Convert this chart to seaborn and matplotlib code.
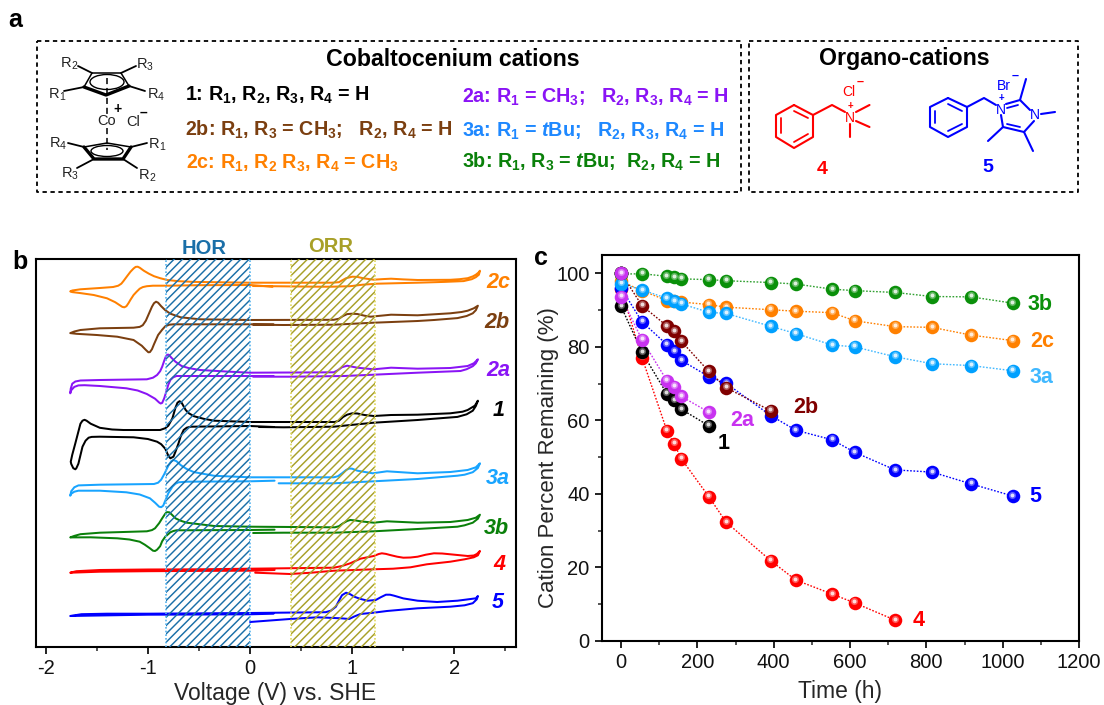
import matplotlib
matplotlib.use("Agg")
import matplotlib.pyplot as plt
import seaborn as sns
from matplotlib.patches import Ellipse
from matplotlib.transforms import ScaledTranslation

# ---------- panel b: cyclic voltammograms (V vs SHE, stacked current in arbitrary units)
V_2c = [.22,0,-.5,-.81,-.95,-1.01,-1.05,-1.08,-1.11,-1.14,-1.17,-1.19,-1.21,-1.23,-1.25,-1.28,-1.32,-1.40,-1.53,-1.66,-1.74,-1.76,-1.74,-1.66,-1.47,-1.34,-1.29,-1.26,-1.24,-1.20,-1.17,-1.14,-1.12,-1.10,-1.08,-1.04,-.99,-.94,-.88,-.81,-.70,-.55,0,.80,.87,.90,.94,1.0,1.05,1.11,1.21,1.30,1.38,1.5,1.64,1.96,2.05,2.13,2.18,2.21,2.24,2.25,2.24,2.21,2.17,2.09,1.9,1.64,1.24,1.1,.98,.8,.66,.03]
I_2c = [360,361.7,361.5,361,361,360.5,359.6,358,355,351.7,347,343.5,340.5,339.4,339.8,341.8,344.5,348.4,351.7,353.6,354.6,355.3,356.2,357.4,358.7,359.7,361,363,365.5,371,375,378.2,379.8,380,379,376,373,370.5,368.5,366.7,365.5,364.8,364,364,364.5,366.3,368.5,370,369.8,368.4,367,367.6,368,367.3,366.7,366.9,367.5,368.5,370.3,372,374.5,376,372,369.5,367.5,365.6,364.8,364,363,362,360.5,360,360,360.7]
V_2b = [.23,0,-.75,-.79,-.83,-.86,-.90,-.94,-.96,-.98,-.995,-1.02,-1.06,-1.14,-1.30,-1.50,-1.70,-1.76,-1.72,-1.66,-1.47,-1.14,-1.08,-1.05,-1.02,-.99,-.96,-.94,-.92,-.90,-.87,-.83,-.78,-.68,-.49,0,.82,.87,.91,.95,1.0,1.05,1.12,1.18,1.28,1.38,1.64,1.96,2.07,2.13,2.19,2.23,2.21,2.18,2.12,2.03,1.8,1.64,1.21,.82,.33,.03]
I_2b = [322.4,322.4,322.4,322,320.4,317,311.7,302.5,297.5,294.6,294.4,296.8,301,306.7,310,311.7,312.9,313.6,315.2,316.7,318.4,319,319.8,321.5,326,333,340,343.5,345,344,340.5,336.5,333,329.4,327.4,326.7,326.9,328,330.7,332.6,333,332.7,331,330,331,332,331.4,333.4,334.7,336,338.4,341,336.5,333.4,330.7,328.6,326.7,325.7,324,322,321.7,322]
V_2a = [.23,0,-.72,-.75,-.78,-.80,-.82,-.84,-.86,-.875,-.89,-.93,-1.01,-1.10,-1.21,-1.47,-1.62,-1.68,-1.72,-1.75,-1.76,-1.755,-1.74,-1.71,-1.66,-1.47,-1.01,-.95,-.91,-.88,-.86,-.84,-.825,-.81,-.795,-.77,-.73,-.67,-.6,-.49,-.2,0,.82,.86,.90,.95,1.05,1.21,1.38,1.64,1.96,2.13,2.19,2.23,2.21,2.18,2.12,2.06,1.64,1.21,.92,.39,.03]
I_2a = [270.7,270.7,270.7,269.5,266.7,262,255,248.5,243.8,243.2,244.2,248,252.7,256.2,258.4,260.7,261.5,261.3,259.8,256.5,253.4,258,263,265.2,266.2,266.7,267.4,269,271.7,275.5,280,286,290,292,292,289,285,280.7,278.6,276.7,275,274,274.4,276.5,279.5,281,279,277.4,279,278,278.7,280.7,283.4,287.4,283.4,280.5,277.5,275.7,274,272,270.7,270,270]
V_1 = [.23,0,-.58,-.62,-.65,-.68,-.70,-.73,-.75,-.78,-.80,-.83,-.87,-.91,-1.0,-1.14,-1.47,-1.55,-1.58,-1.61,-1.64,-1.68,-1.70,-1.71,-1.73,-1.75,-1.755,-1.74,-1.71,-1.66,-1.64,-1.62,-1.60,-1.56,-1.47,-1.35,-1.24,-.88,-.83,-.80,-.76,-.73,-.71,-.69,-.67,-.63,-.60,-.55,-.45,-.35,0,.83,.87,.91,.95,1.0,1.05,1.12,1.21,1.38,1.64,1.96,2.08,2.13,2.20,2.23,2.21,2.18,2.12,2.03,1.64,1.21,.82,.33,.09]
I_1 = [219.7,220.7,220,219,216.7,210,203.4,195,190,188.4,191,198,202.5,205,207.7,209.4,210,209.8,209,206,200,183,178.5,177.4,178.5,182.7,185,192,203.4,223,226,226.9,226,223,218.9,217.2,216.7,216.7,218.5,221,228.4,239,244,245.5,244,236.7,233.5,230.5,227.8,226,224.7,224.7,226,229.7,232,233.4,233.2,231.7,230.7,231.7,232,233.4,235,236.7,241,246,240.7,236,232.4,229.8,226.7,224,220,219.4,219.7]
V_3a = [.24,0,-.62,-.70,-.73,-.76,-.80,-.83,-.85,-.87,-.89,-.93,-.98,-1.08,-1.21,-1.47,-1.68,-1.72,-1.75,-1.76,-1.75,-1.72,-1.68,-1.47,-.94,-.90,-.87,-.84,-.80,-.77,-.75,-.72,-.68,-.62,-.55,-.35,0,.82,.86,.90,.94,.97,1.0,1.05,1.20,1.34,1.64,1.96,2.13,2.21,2.25,2.23,2.18,2.1,2.03,1.64,1.21,.82,.28]
I_3a = [166,165.4,165,164.4,163,160,153.4,146,141,139.5,140,144,148.4,152.2,154.4,156,156,155,153,151,155.5,159.4,161.3,162,162.7,164,167,172.5,181,185.5,186.7,185.5,181.7,177.7,174.6,170.9,169.4,169.4,170.5,173.4,176.7,178.2,178,176,173.4,175.4,173.4,174.7,176.7,179.4,183.4,178.7,174.5,172,171,167.7,165.4,163.4,163.4]
V_3b = [.24,0,-.72,-.75,-.78,-.83,-.86,-.88,-.91,-.93,-.95,-.98,-1.03,-1.08,-1.18,-1.30,-1.56,-1.76,-1.72,-1.66,-1.47,-1.01,-.96,-.93,-.89,-.86,-.83,-.815,-.79,-.76,-.73,-.68,-.62,-.35,0,.83,.87,.91,.95,.98,1.03,1.08,1.21,1.34,1.64,1.96,2.13,2.21,2.25,2.23,2.18,2.1,2.03,1.64,1.21,.82,.33,.03]
I_3b = [117,116.7,116.4,115.7,114.4,110,105.5,100.5,97,95.7,96,98.4,102,105,107.2,108.4,109.4,109.3,110.8,112.5,114,115.4,116.6,118.4,123.5,128.4,133,134.6,134.4,131.5,128.4,126,124,120.7,120,119.4,120.5,123.4,125.7,126.7,126.3,125.4,124,125.4,124,124.7,126.7,129,132,128,124,121.4,120,117.7,115.4,114,114,113.7]
V_4 = [.24,0,-.5,-1,-1.47,-1.76,-1.70,-1.47,-1.0,-.5,0,.82,.90,.98,1.08,1.21,1.26,1.29,1.33,1.37,1.44,1.50,1.57,1.64,1.72,1.80,1.88,1.96,2.13,2.19,2.22,2.25,2.23,2.19,2.1,1.96,1.73,1.57,1.4,1.21,.82,.6,.39,.05]
I_4 = [76.7,76,75.8,75.5,75,74,75.5,76.7,77.2,77.4,78,79,80.7,83.4,88,90.7,92.7,93.4,92.8,91.7,90,89,89.2,90,92,93.4,93.2,92.4,90.7,91.2,92.7,95.7,91.4,89.4,87.4,85,82.4,79.4,78,77.4,76,74,72.7,74]
V_5 = [.23,0,-1.0,-1.6,-1.76,-1.65,-1.4,-1.0,0,.74,.79,.84,.87,.90,.94,.98,1.02,1.08,1.15,1.23,1.28,1.33,1.37,1.41,1.5,1.64,1.83,2.03,2.16,2.21,2.23,2.22,2.18,2.1,1.96,1.64,1.34,1.21,1.08,1.02,.97,.89,.66,.39,0]
I_5 = [33,32.4,32,31,30.7,32.5,33,33,33.7,34.5,36,40,46,51.5,54,52.5,50,47.8,46,46.7,49.5,52,52,51,48.3,46,44.7,46,47.7,48.4,50.7,47.5,43.5,41.4,40,38.4,35.7,34,32.7,30.2,27.7,28.4,29.4,27.7,24.7]

# ---------- panel c: cation stability
T_LONG = [0,0,55,120,139,158,230,275,392,458,553,612,718,815,917,1026]
P_3b = [100,99.8,99.9,99.2,98.9,98.5,98.3,98,97.5,97.1,95.7,95.3,94.8,93.7,93.6,91.9]
P_2c = [100,97.8,95.3,92.6,92.4,92.2,91.5,90.8,90.1,89.7,89.3,87.1,85.5,85.3,83.2,81.7]
P_3a = [100,97.2,95.5,93.2,92.4,91.7,89.4,89.1,85.6,83.6,80.5,80,77.3,75.4,74.9,73.5]
P_5 = [100,96,86.8,80.6,78.8,76.3,71.9,70.1,61.3,57.3,54.7,51.3,46.5,45.9,42.7,39.4]
T_2b = [0,55,120,139,158,230,275,392]
P_2b = [100,91.2,85.7,84.2,81.5,73.3,68.9,62.6]
T_SHORT = [0,0,55,120,139,158,230]
P_2a = [100,93.6,81.9,70.8,69.2,66.5,62.2]
P_1 = [100,91,78.5,67.2,65.4,63,58.5]
T_4 = [0,0,55,120,139,158,230,275,392,458,553,612,718]
P_4 = [100,95.8,77,57.2,53.6,49.5,39.2,32.3,21.8,16.5,12.7,10.3,5.6]

sns.set_theme(style="ticks")
plt.rcParams.update({
    "font.family": ["Liberation Sans", "DejaVu Sans"],
    "axes.unicode_minus": False,
    "mathtext.fontset": "custom",
    "mathtext.rm": "Liberation Sans:bold",
    "mathtext.bf": "Liberation Sans:bold",
    "mathtext.it": "Liberation Sans:italic:bold",
    "mathtext.default": "rm",
    "hatch.linewidth": 1.05,
    "text.color": "#111111",
})

W, H = 1104, 705
fig = plt.figure(figsize=(W / 100, H / 100), dpi=100, facecolor="white")


def axes_px(l, t, r, b):
    return fig.add_axes([l / W, 1 - b / H, (r - l) / W, (b - t) / H])


C = {"1": "#000000", "2a": "#8a14f5", "2b": "#7b3f10", "2c": "#ff8000", "3a": "#18a4ff",
     "3b": "#0a800a", "4": "#ff0000", "5": "#0000ff"}

# ---------- panel b
axb = axes_px(36, 259, 515.7, 646.7)
curves = [("2c", V_2c, I_2c), ("2b", V_2b, I_2b), ("2a", V_2a, I_2a), ("1", V_1, I_1),
          ("3a", V_3a, I_3a), ("3b", V_3b, I_3b), ("4", V_4, I_4), ("5", V_5, I_5)]
for name, v, i in curves:
    sns.lineplot(x=v, y=i, sort=False, estimator=None, color=C[name], lw=1.45, ax=axb,
                 zorder=2, solid_joinstyle="round")
axb.axvspan(-.825, 0, facecolor="none", edgecolor="#1a6fa8", hatch="////", lw=0, zorder=3)
axb.axvspan(.4, 1.225, facecolor="none", edgecolor="#a8a028", hatch="////", lw=0, zorder=3)
for x, col in [(-.825, "#58b4ee"), (0, "#58b4ee"), (.4, "#e0d860"), (1.225, "#e0d860")]:
    axb.axvline(x, color=col, lw=1.2, ls=(0, (1, 1.2)), zorder=3)
axb.set_xlim(-2.095, 2.6)
axb.set_ylim(0, 387.7)
axb.set_yticks([])
axb.set_xticks([-2, -1, 0, 1, 2])
axb.set_xticks([-1.5, -.5, .5, 1.5, 2.5], minor=True)
axb.set_xlabel("Voltage (V) vs. SHE", fontsize=16.5, va="center")
axb.xaxis.set_label_coords(.498, -.122)
b_labels = [("2c", 2.31, 363.7), ("2b", 2.29, 324.7), ("2a", 2.31, 276.7), ("1", 2.37, 236.7),
            ("3a", 2.31, 168.7), ("3b", 2.29, 118.7), ("4", 2.38, 82.7), ("5", 2.37, 43.7)]
for name, x, y in b_labels:
    axb.text(x, y, name, color=C[name], fontsize=15.5, fontweight="bold", fontstyle="italic", va="center")

# ---------- panel c
axc = axes_px(602, 255, 1079, 640.7)
CC = {"1": "#000000", "2a": "#c832f0", "2b": "#800000", "2c": "#ff8000", "3a": "#00a0ff",
      "3b": "#0a900a", "4": "#ff0000", "5": "#0000ff"}
LC = {"3a": "#40b8ff", "3b": "#30a030"}
series = [("4", T_4, P_4), ("5", T_LONG, P_5), ("1", T_SHORT, P_1), ("2c", T_LONG, P_2c),
          ("3b", T_LONG, P_3b), ("3a", T_LONG, P_3a), ("2b", T_2b, P_2b), ("2a", T_SHORT, P_2a)]
shift = axc.transData + ScaledTranslation(-.3 / 72, 1.0 / 72, fig.dpi_scale_trans)
for k, (name, t, p) in enumerate(series):
    z = 3 + k
    sns.lineplot(x=t, y=p, sort=False, estimator=None, color=LC.get(name, CC[name]), lw=1.0,
                 ls=(0, (1.2, 1.2)), ax=axc, zorder=2)
    sns.scatterplot(x=t, y=p, color=CC[name], s=95, linewidth=0, ax=axc, zorder=z)
    axc.scatter(t, p, s=26, color="white", alpha=.35, linewidth=0, transform=shift, zorder=z)
    axc.scatter(t, p, s=8, color="white", alpha=.8, linewidth=0, transform=shift, zorder=z)
axc.set_xlim(-50, 1200)
axc.set_ylim(0, 105)
axc.set_xticks(range(0, 1201, 200))
axc.set_xticks(range(100, 1200, 200), minor=True)
axc.set_yticks(range(0, 101, 20))
axc.set_yticks(range(10, 100, 20), minor=True)
axc.set_xlabel("Time (h)", fontsize=16.5, va="center")
axc.xaxis.set_label_coords(.499, -.133)
axc.set_ylabel("Cation Percent Remaining (%)", fontsize=16, va="center")
axc.yaxis.set_label_coords(-.113, .474)
c_labels = [("3b", 1065, 91.5, "#0a900a"), ("2c", 1071, 81.4, "#ff8000"), ("3a", 1071, 71.6, "#40b8ff"),
            ("5", 1071, 39.2, "#0000ff"), ("2b", 450, 63.4, "#800000"), ("2a", 285, 60, "#c832f0"),
            ("1", 254, 53.6, "#000000"), ("4", 764, 5.6, "#ff0000")]
for name, x, y, col in c_labels:
    axc.text(x, y, name, color=col, fontsize=15.5, fontweight="bold", va="center", zorder=20)

for ax in (axb, axc):
    for s in ax.spines.values():
        s.set_linewidth(1.5)
        s.set_color("black")
        s.set_visible(True)
    ax.tick_params(which="major", length=5, width=1.3, labelsize=14.5, pad=4, colors="#111111")
    ax.tick_params(which="minor", length=3, width=1.1)

# ---------- panel a: scheme, in figure pixel coordinates
ov = fig.add_axes([0, 0, 1, 1], zorder=30)
ov.set_xlim(0, W)
ov.set_ylim(H, 0)
ov.axis("off")
ov.patch.set_alpha(0)


def line(pts, col="black", lw=1.1, **kw):
    ov.plot([p[0] for p in pts], [p[1] for p in pts], color=col, lw=lw, solid_capstyle="round", **kw)


def TX(x, y, s, col="#111111", fs=10, **kw):
    kw.setdefault("ha", "center")
    kw.setdefault("va", "center")
    ov.text(x, y, s, color=col, fontsize=fs, **kw)


for l, r in [(37, 741), (749, 1078)]:
    ov.plot([l, r, r, l, l], [41, 41, 192, 192, 41], color="black", lw=1.3, ls=(0, (2.4, 2)))

TX(15, 20, "a", fs=18, fontweight="bold", col="black")
TX(20, 262, "b", fs=18, fontweight="bold", col="black")
TX(541, 258, "c", fs=18, fontweight="bold", col="black")
TX(204, 248, "HOR", col="#1a6fa8", fs=14.5, fontweight="bold")
TX(331, 246, "ORR", col="#a8a028", fs=14.5, fontweight="bold")
TX(453, 60, "Cobaltocenium cations", fs=16.7, fontweight="bold", col="black")
TX(904, 59, "Organo-cations", fs=16.7, fontweight="bold", col="black")

rows = [
    (185, 95, "1: R$_{1}$, R$_{2}$, R$_{3}$, R$_{4}$ = H", "#000000"),
    (185, 130, "2b: R$_{1}$, R$_{3}$ = CH$_{3}$;   R$_{2}$, R$_{4}$ = H", C["2b"]),
    (186, 163, "2c: R$_{1}$, R$_{2}$ R$_{3}$, R$_{4}$ = CH$_{3}$", C["2c"]),
    (462, 97, "2a: R$_{1}$ = CH$_{3}$;   R$_{2}$, R$_{3}$, R$_{4}$ = H", C["2a"]),
    (462, 131, "3a: R$_{1}$ = $\\mathit{t}$Bu;   R$_{2}$, R$_{3}$, R$_{4}$ = H", "#1e88ff"),
    (462, 162, "3b: R$_{1}$, R$_{3}$ = $\\mathit{t}$Bu;  R$_{2}$, R$_{4}$ = H", C["3b"]),
]
for x, y, s, col in rows:
    TX(x, y, s, col=col, fs=14.2, fontweight="bold", ha="left")

# cobaltocenium sketch
line([(84, 87), (92, 73), (121, 73), (129, 86)])
line([(84, 87), (106, 95), (129, 86)], lw=2.4)
ov.add_patch(Ellipse((107, 82), 34, 15, fill=False, ec="black", lw=1))
line([(84, 147), (107, 143), (131, 147)])
line([(84, 147), (94, 159), (123, 159), (131, 147)], lw=2.4)
ov.add_patch(Ellipse((107, 151), 32, 11, fill=False, ec="black", lw=1))
for a, b in [((78, 66), (92, 73)), ((136, 66), (121, 73)), ((64, 91), (84, 87)), ((145, 91), (129, 86)),
             ((68, 143), (84, 147)), ((147, 143), (131, 147)), ((77, 168), (94, 159)), ((137, 168), (123, 159))]:
    line([a, b], lw=1.3)
line([(107, 78), (107, 114)], lw=1.1, ls=(0, (4, 2.5)))
line([(107, 128), (107, 150)], lw=1.1, ls=(0, (4, 2.5)))
for x, y, n in [(66, 63, 2), (142, 64, 3), (54, 94, 1), (153, 94, 4), (55, 143, 4), (154, 144, 1), (67, 173, 3), (144, 175, 2)]:
    ov.text(x, y, "R", color="#222222", fontsize=10.5, ha="center", va="center")
    ov.text(x + 8, y + 3, str(n), color="#222222", fontsize=7.5, ha="center", va="center")
TX(107, 121, "Co", fs=10.5, col="#222222")
TX(118, 109, "+", fs=10, fontweight="bold", col="black")
TX(133, 122, "Cl", fs=10.5, col="#222222")
TX(143, 113, "–", fs=10, fontweight="bold", col="black")


def benzene(vs, col, inner):
    line(vs + [vs[0]], col=col, lw=1.5)
    for a, b in inner:
        line([a, b], col=col, lw=1.3)


red, blue = "#ff0000", "#0000ff"
benzene([(794, 105), (813, 115), (813, 137), (794, 148), (776, 137), (776, 115)], red,
        [((794, 111), (808, 118)), ((808, 134), (794, 142)), ((781, 133), (781, 118))])
line([(813, 115), (832, 105), (845, 112)], col=red, lw=1.5)
for a, b in [((856, 112), (869.5, 105)), ((856, 121), (869.5, 127)), ((850, 124), (850, 137))]:
    line([a, b], col=red, lw=1.5)
TX(850, 118, "N", col=red, fs=10)
TX(850, 106, "+", col=red, fs=7, fontweight="bold")
TX(849, 92, "Cl", col=red, fs=10)
TX(860, 82, "–", col=red, fs=9, fontweight="bold")
TX(822, 170, "4", col=red, fs=14, fontweight="bold")

benzene([(948, 98), (967, 107), (967, 127), (948, 137), (930, 127), (930, 107)], blue,
        [((948, 104), (962, 111)), ((962, 124), (948, 131)), ((935, 123), (935, 111))])
line([(967, 107), (984, 98), (996, 105)], col=blue, lw=1.5)
line([(1006, 104), (1020, 100), (1030, 110)], col=blue, lw=1.5)
line([(1007, 108), (1018, 105)], col=blue, lw=1.3)
line([(1034, 121), (1024, 132), (1003, 127), (1001, 115)], col=blue, lw=1.5)
line([(1020, 127), (1007, 124)], col=blue, lw=1.3)
for a, b in [((1020, 100), (1026, 79)), ((1041, 114), (1055, 112)), ((1024, 132), (1033, 151)), ((1003, 127), (988, 141))]:
    line([a, b], col=blue, lw=1.5)
TX(1001, 110, "N", col=blue, fs=10)
TX(1035, 115, "N", col=blue, fs=10)
TX(1001, 98.5, "+", col=blue, fs=7, fontweight="bold")
TX(1004, 86, "Br", col=blue, fs=10)
TX(1015, 76, "–", col=blue, fs=9, fontweight="bold")
TX(988, 168, "5", col=blue, fs=14, fontweight="bold")

fig.savefig("out.png", dpi=100)
